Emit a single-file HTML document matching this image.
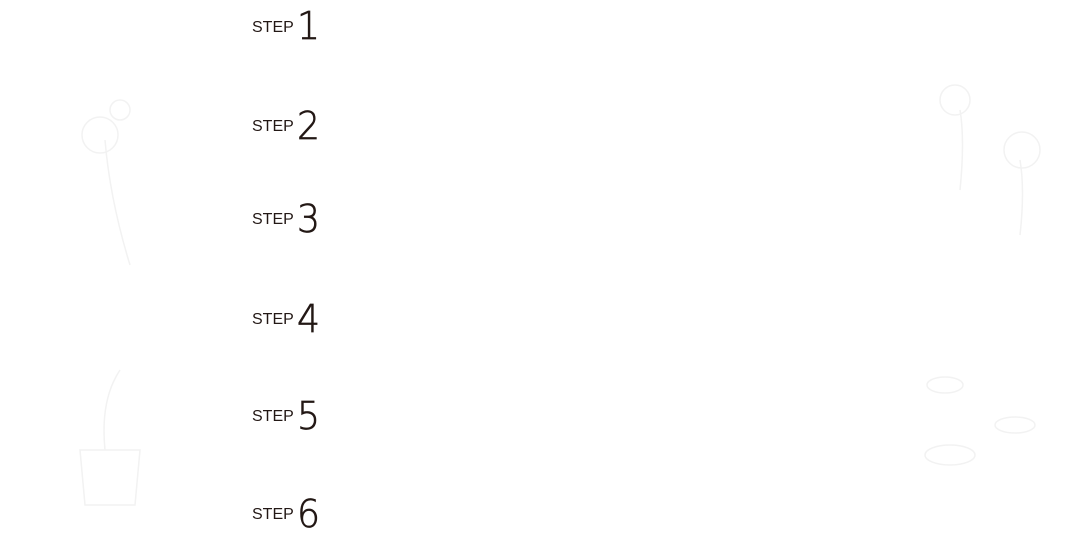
<!DOCTYPE html>
<html><head><style>
body{margin:0;width:1080px;height:549px;background:#fff;position:relative;overflow:hidden;font-family:"Liberation Sans","DejaVu Sans",sans-serif;color:#231815}
.s{position:absolute;left:252px;font-size:16px;line-height:16px}
.d{position:absolute;left:297px;font-size:38px;line-height:38px;font-weight:200;font-family:"DejaVu Sans",sans-serif;-webkit-text-stroke:0.7px #231815;transform:scaleX(0.95);transform-origin:left}
</style></head><body>
<div class="s" style="top:20px">STEP</div><div class="d" style="top:7px">1</div>
<div class="s" style="top:119px">STEP</div><div class="d" style="top:107px">2</div>
<div class="s" style="top:212px">STEP</div><div class="d" style="top:200px">3</div>
<div class="s" style="top:312px">STEP</div><div class="d" style="top:300px">4</div>
<div class="s" style="top:409px">STEP</div><div class="d" style="top:397px">5</div>
<div class="s" style="top:507px">STEP</div><div class="d" style="top:495px">6</div>
<svg width="1080" height="549" style="position:absolute;left:0;top:0" fill="none" stroke="#f2f2f2" stroke-width="1.5">
<path d="M130 265 Q110 200 105 140"/><circle cx="100" cy="135" r="18"/><circle cx="120" cy="110" r="10"/>
<path d="M80 450 h60 l-5 55 h-50 z"/><path d="M105 450 Q100 400 120 370"/>
<path d="M960 190 Q965 140 960 110"/><circle cx="955" cy="100" r="15"/><path d="M1020 235 Q1025 190 1020 160"/><circle cx="1022" cy="150" r="18"/>
<ellipse cx="945" cy="385" rx="18" ry="8"/><ellipse cx="950" cy="455" rx="25" ry="10"/><ellipse cx="1015" cy="425" rx="20" ry="8"/>
</svg>
</body></html>
